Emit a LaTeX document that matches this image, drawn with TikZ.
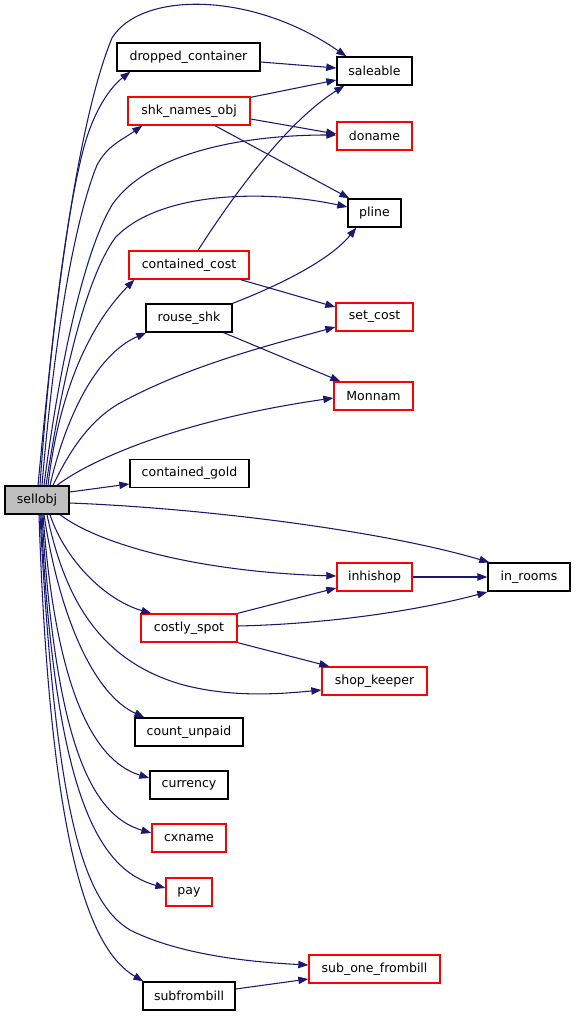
\documentclass[tikz,border=0pt]{standalone}
\usepackage{fontspec}
\setmainfont{DejaVu Sans}
\usetikzlibrary{arrows.meta,calc}
\newdimen\pxu \pxu=0.75pt
\definecolor{edgeblue}{HTML}{191970}
\definecolor{nodered}{HTML}{FF0000}
\definecolor{nodegray}{HTML}{BFBFBF}
\begin{document}
\begin{tikzpicture}[x=0.75pt,y=-0.75pt,
  fn/.style={draw=black, line width=1pt, rectangle, inner sep=0pt, minimum height=28\pxu, font=\fontsize{9.4}{11}\selectfont, fill=white},
  redfn/.style={fn, draw=nodered},
  edge/.style={draw=edgeblue, line width=0.8pt, -{Triangle[length=7.5pt,width=5.5pt]}}]
\useasboundingbox (0,0) rectangle (576,1016);

% nodes
\node[fn, minimum width=64\pxu, fill=nodegray] (sellobj) at (37,500) {sellobj};
\node[fn, minimum width=143\pxu] (dropped_container) at (188.5,57) {dropped\_container};
\node[fn, minimum width=75\pxu] (saleable) at (374.5,71) {saleable};
\node[redfn, minimum width=122\pxu] (shk_names_obj) at (189,111) {shk\_names\_obj};
\node[redfn, minimum width=75\pxu] (doname) at (374.5,136) {doname};
\node[fn, minimum width=53\pxu] (pline) at (374.5,213) {pline};
\node[redfn, minimum width=120\pxu] (contained_cost) at (189,265) {contained\_cost};
\node[fn, minimum width=86\pxu] (rouse_shk) at (189,318) {rouse\_shk};
\node[redfn, minimum width=77\pxu] (set_cost) at (374.5,317) {set\_cost};
\node[redfn, minimum width=79\pxu] (Monnam) at (373.5,396) {Monnam};
\node[fn, minimum width=119\pxu] (contained_gold) at (189.5,473.5) {contained\_gold};
\node[redfn, minimum width=75\pxu] (inhishop) at (374.5,577) {inhishop};
\node[fn, minimum width=82\pxu] (in_rooms) at (529,577) {in\_rooms};
\node[redfn, minimum width=96\pxu] (costly_spot) at (189,628) {costly\_spot};
\node[redfn, minimum width=105\pxu] (shop_keeper) at (374.5,681) {shop\_keeper};
\node[fn, minimum width=108\pxu] (count_unpaid) at (189,732) {count\_unpaid};
\node[fn, minimum width=78\pxu] (currency) at (189,785) {currency};
\node[redfn, minimum width=74\pxu] (cxname) at (189,838) {cxname};
\node[redfn, minimum width=46\pxu] (pay) at (189,892) {pay};
\node[redfn, minimum width=131\pxu] (sub_one_frombill) at (374.5,969) {sub\_one\_frombill};
\node[fn, minimum width=92\pxu] (subfrombill) at (189,996) {subfrombill};

% edges from sellobj (upwards)
\draw[edge] ($(sellobj.north)+(1,0)$) .. controls (48,380) and (70,140) .. (112,38) .. controls (140,-8) and (250,-10) .. ($(saleable.north west)+(10,0)$);
\draw[edge] ($(sellobj.north)+(3,0)$) .. controls (50,340) and (68,200) .. (86,140) .. controls (97,105) and (112,86) .. ($(dropped_container.south west)+(14,0)$);
\draw[edge] ($(sellobj.north)+(5,0)$) .. controls (55,330) and (75,220) .. (97,165) .. controls (108,145) and (122,140) .. ($(shk_names_obj.south west)+(15,0)$);
\draw[edge] ($(sellobj.north)+(7,0)$) .. controls (60,360) and (85,250) .. (112,205) .. controls (150,150) and (250,135) .. ($(doname.west)+(0,-1)$);
\draw[edge] ($(sellobj.north)+(9,0)$) .. controls (62,380) and (85,280) .. (115,238) .. controls (160,190) and (270,190) .. ($(pline.west)+(0,-6)$);
\draw[edge] ($(sellobj.north)+(11,0)$) .. controls (58,400) and (85,330) .. ($(contained_cost.south west)+(6,0)$);
\draw[edge] ($(sellobj.north)+(13,0)$) .. controls (65,420) and (95,355) .. ($(rouse_shk.south west)+(1,0)$);
\draw[edge] ($(sellobj.north)+(16,0)$) .. controls (70,450) and (90,420) .. (120,403) .. controls (190,365) and (270,345) .. ($(set_cost.west)+(0,10)$);
\draw[edge] ($(sellobj.north)+(20,0)$) .. controls (90,460) and (180,420) .. ($(Monnam.west)+(0,2)$);
\draw[edge] ($(sellobj.east)+(0,-8)$) -- ($(contained_gold.west)+(0,10.5)$);
\draw[edge] ($(sellobj.east)+(0,3)$) .. controls (200,508) and (380,530) .. ($(in_rooms.north west)+(2,0)$);
% edges from sellobj (downwards)
\draw[edge] ($(sellobj.south)+(23,0)$) .. controls (100,545) and (200,572) .. ($(inhishop.west)+(0,-1)$);
\draw[edge] ($(sellobj.south)+(13,0)$) .. controls (65,560) and (105,600) .. ($(costly_spot.north west)+(11,0)$);
\draw[edge] ($(sellobj.south)+(10,0)$) .. controls (65,600) and (100,660) .. (180,684) .. controls (230,698) and (280,694) .. ($(shop_keeper.west)+(0,9)$);
\draw[edge] ($(sellobj.south)+(7,0)$) .. controls (60,620) and (95,695) .. ($(count_unpaid.north west)+(10,0)$);
\draw[edge] ($(sellobj.south)+(6,0)$) .. controls (55,680) and (90,760) .. ($(currency.west)+(0,-7)$);
\draw[edge] ($(sellobj.south)+(5,0)$) .. controls (55,740) and (90,815) .. ($(cxname.west)+(0,-5)$);
\draw[edge] ($(sellobj.south)+(4,0)$) .. controls (55,800) and (100,870) .. ($(pay.west)+(0,-4)$);
\draw[edge] ($(sellobj.south)+(3,0)$) .. controls (55,800) and (80,900) .. (130,930) .. controls (180,955) and (250,962) .. ($(sub_one_frombill.west)+(0,-4)$);
\draw[edge] ($(sellobj.south)+(2,0)$) .. controls (50,850) and (90,950) .. ($(subfrombill.north west)+(1,0)$);

% other edges
\draw[edge] ($(dropped_container.east)+(0,5)$) -- ($(saleable.west)+(0,-3)$);
\draw[edge] ($(shk_names_obj.north east)+(0,1)$) -- ($(saleable.west)+(0,9)$);
\draw[edge] ($(shk_names_obj.east)+(0,8)$) -- ($(doname.west)+(0,-2)$);
\draw[edge] ($(shk_names_obj.south)+(26,0)$) -- ($(pline.north west)+(2,0)$);
\draw[edge] ($(contained_cost.north)+(9,0)$) .. controls (240,185) and (290,120) .. ($(saleable.south west)+(8,0)$);
\draw[edge] ($(contained_cost.south east)+(-9,0)$) -- ($(set_cost.west)+(0,-10)$);
\draw[edge] (rouse_shk.north east) .. controls (280,285) and (330,260) .. ($(pline.south west)+(9,0)$);
\draw[edge] ($(rouse_shk.south east)+(-9,0)$) -- ($(Monnam.north west)+(7,0)$);
\draw[edge] (inhishop.east) -- (in_rooms.west);
\draw[edge] (costly_spot.north east) -- ($(inhishop.west)+(0,11)$);
\draw[edge] ($(costly_spot.east)+(0,-2)$) .. controls (330,624) and (420,610) .. ($(in_rooms.west)+(0,15)$);
\draw[edge] (costly_spot.south east) -- ($(shop_keeper.north west)+(8,0)$);
\draw[edge] ($(subfrombill.east)+(0,-7)$) -- ($(sub_one_frombill.west)+(0,10)$);
\end{tikzpicture}
\end{document}
